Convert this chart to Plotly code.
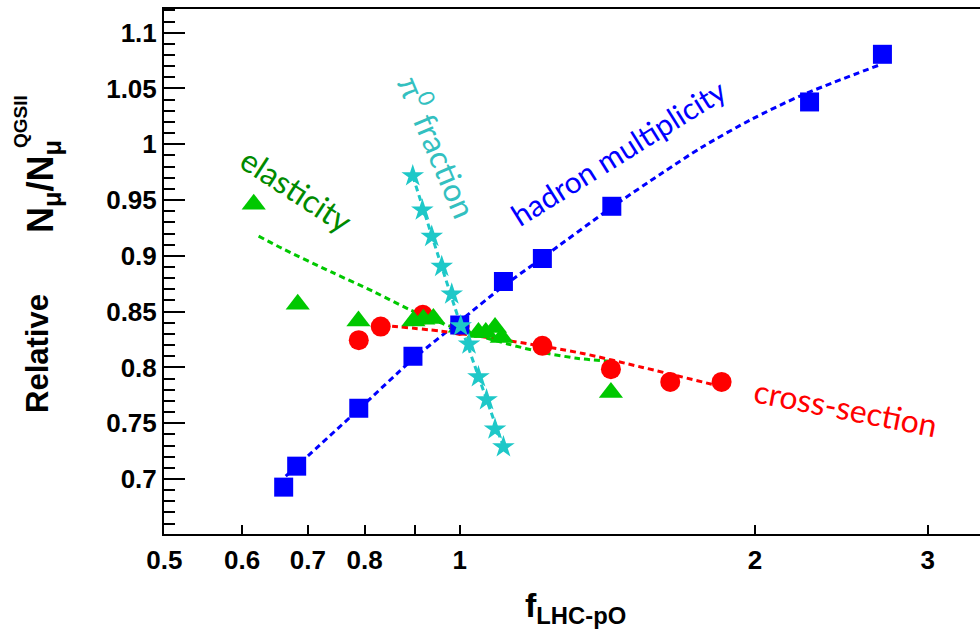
import numpy as np
import plotly.graph_objects as go

# ---------------- data ----------------
had_x = [0.6615, 0.682, 0.789, 0.896, 1.0, 1.108, 1.214, 1.429, 2.273, 2.697]
had_y = [0.6927, 0.7115, 0.7634, 0.810, 0.838, 0.877, 0.8976, 0.9444, 1.0379, 1.0806]
had_fit_x = [0.6647, 0.789, 0.896, 1.0, 1.108, 1.2124, 1.4289, 1.6069, 1.765, 1.9847, 2.2318, 2.6737]
had_fit_y = [0.7025, 0.7625, 0.8073, 0.8414, 0.8728, 0.8978, 0.9435, 0.974, 0.9973, 1.0224, 1.0439, 1.0708]

xs_x = [0.789, 0.8307, 0.917, 1.0, 1.214, 1.426, 1.639, 1.849]
xs_y = [0.8244, 0.8366, 0.8472, 0.837, 0.8193, 0.7984, 0.787, 0.787]
xs_fit_x = [0.8327, 0.9586, 1.130, 1.331, 1.5327, 1.807]
xs_fit_y = [0.8378, 0.8324, 0.8235, 0.8127, 0.8002, 0.7849]

el_x = [0.6166, 0.6837, 0.7884, 0.897, 0.918, 0.940, 1.0, 1.0449, 1.063, 1.0864, 1.1036, 1.426]
el_y = [0.9462, 0.8566, 0.8417, 0.8417, 0.8432, 0.8438, 0.836, 0.8313, 0.8313, 0.8357, 0.8268, 0.7775]
el_fit_x = [0.6237, 0.6585, 0.7406, 0.8192, 0.8872, 0.9586, 1.0407, 1.1218, 1.2124, 1.3158, 1.4189]
el_fit_y = [0.9176, 0.9068, 0.8853, 0.8674, 0.8522, 0.8396, 0.8289, 0.8208, 0.8136, 0.8082, 0.8056]

pi_x = [0.8956, 0.916, 0.9364, 0.9586, 0.9814, 1.0023, 1.022, 1.0449, 1.065, 1.0864, 1.108]
pi_y = [0.9716, 0.9409, 0.9173, 0.8904, 0.8656, 0.8372, 0.8208, 0.7915, 0.7709, 0.7446, 0.7288]
pi_fit_x = [0.8956, 0.95, 1.0, 1.05, 1.108]
pi_fit_y = [0.9716, 0.901, 0.8405, 0.7867, 0.7288]

x_tick_vals = [0.5, 0.6, 0.7, 0.8, 1, 2, 3]
x_tick_text = ["0.5", "0.6", "0.7", "0.8", "1", "2", "3"]
x_minor_vals = [0.9]
y_tick_vals = [0.7, 0.75, 0.8, 0.85, 0.9, 0.95, 1.0, 1.05, 1.1]
y_tick_text = ["0.7", "0.75", "0.8", "0.85", "0.9", "0.95", "1", "1.05", "1.1"]

# ---------------- styling ----------------
W, H = 980, 638
ML, MR, MT, MB = 164, 0, 9, 104
BLUE, RED, GREEN, GREEN_TXT, CYAN, CYAN_TXT = "#0000ff", "#ff0000", "#00c800", "#008a00", "#1ec8c8", "#33c0c0"
LBL_FONT = "Lato, 'Open Sans', sans-serif"
AX_FONT = "'Liberation Sans', Arial, sans-serif"

def px(xp):
    return (xp - ML) / (W - ML - MR)

def py(yp):
    return (H - MB - yp) / (H - MT - MB)

fig = go.Figure()
dash = "6px,4px"
for fx, fy, c in [(had_fit_x, had_fit_y, BLUE), (xs_fit_x, xs_fit_y, RED),
                  (el_fit_x, el_fit_y, GREEN), (pi_fit_x, pi_fit_y, CYAN)]:
    fig.add_trace(go.Scatter(x=fx, y=fy, mode="lines", line=dict(color=c, width=3, dash=dash,
                             shape="spline", smoothing=0.8), hoverinfo="skip", showlegend=False))

fig.add_trace(go.Scatter(x=xs_x, y=xs_y, mode="markers", showlegend=False,
                         marker=dict(symbol="circle", size=20, color=RED, line=dict(width=0))))
fig.add_trace(go.Scatter(x=el_x, y=el_y, mode="markers", showlegend=False,
                         marker=dict(symbol="triangle-up", size=21, color=GREEN, line=dict(width=0))))
fig.add_trace(go.Scatter(x=had_x, y=had_y, mode="markers", showlegend=False,
                         marker=dict(symbol="square", size=19, color=BLUE, line=dict(width=0))))
fig.add_trace(go.Scatter(x=pi_x, y=pi_y, mode="markers", showlegend=False,
                         marker=dict(symbol="star", size=17, color=CYAN, line=dict(width=0))))

ann = [
    dict(text="elasticity", x=px(296), y=py(190), textangle=33, font=dict(size=32, color=GREEN_TXT, family=LBL_FONT)),
    dict(text="π<sup>0</sup> fraction", x=px(439), y=py(146), textangle=67, font=dict(size=32, color=CYAN_TXT, family=LBL_FONT)),
    dict(text="hadron multiplicity", x=px(618), y=py(152), textangle=-32, font=dict(size=30, color=BLUE, family=LBL_FONT)),
    dict(text="cross-section", x=px(846), y=py(407), textangle=11, font=dict(size=32, color=RED, family=LBL_FONT)),
    dict(text="<b>Relative</b>", x=px(37), y=py(354), textangle=-90, font=dict(size=31, color="black", family=AX_FONT)),
    dict(text="<b>N<sub>μ</sub>/N<sub>μ</sub></b>", x=px(43), y=py(187), textangle=-90, font=dict(size=36, color="black", family=AX_FONT)),
    dict(text="<b>QGSII</b>", x=px(20), y=py(122), textangle=-90, font=dict(size=19, color="black", family=AX_FONT)),
    dict(text="<b>f<sub>LHC-pO</sub></b>", x=px(575), y=py(607), font=dict(size=34, color="black", family=AX_FONT)),
]
for a in ann:
    a.update(xref="paper", yref="paper", showarrow=False, xanchor="center", yanchor="middle")
fig.update_layout(annotations=ann)

fig.update_layout(
    width=W, height=H, margin=dict(l=ML, r=MR, t=MT, b=MB),
    paper_bgcolor="white", plot_bgcolor="white",
    xaxis=dict(type="log", range=[np.log10(0.4995), np.log10(0.4995) + 816 / 981],
               tickmode="array", tickvals=x_tick_vals, ticktext=x_tick_text,
               ticks="inside", ticklen=9, tickwidth=2, tickcolor="black",
               minor=dict(tickmode="array", tickvals=x_minor_vals, ticks="inside", ticklen=9,
                          tickwidth=2, tickcolor="black", showgrid=False),
               showline=True, linecolor="black", linewidth=2, mirror=True,
               showgrid=False, zeroline=False, ticklabelstandoff=2,
               tickfont=dict(size=26, color="black", family=AX_FONT, weight="bold")),
    yaxis=dict(range=[0.6507, 1.1212], tickmode="array", tickvals=y_tick_vals, ticktext=y_tick_text,
               ticks="inside", ticklen=21, tickwidth=2, tickcolor="black",
               minor=dict(ticks="inside", ticklen=11, tickwidth=2, tickcolor="black", dtick=0.01, tick0=0.7, showgrid=False),
               showline=True, linecolor="black", linewidth=2,
               showgrid=False, zeroline=False, ticklabelstandoff=0,
               tickfont=dict(size=26, color="black", family=AX_FONT, weight="bold")),
)

fig.write_html("out.html")
